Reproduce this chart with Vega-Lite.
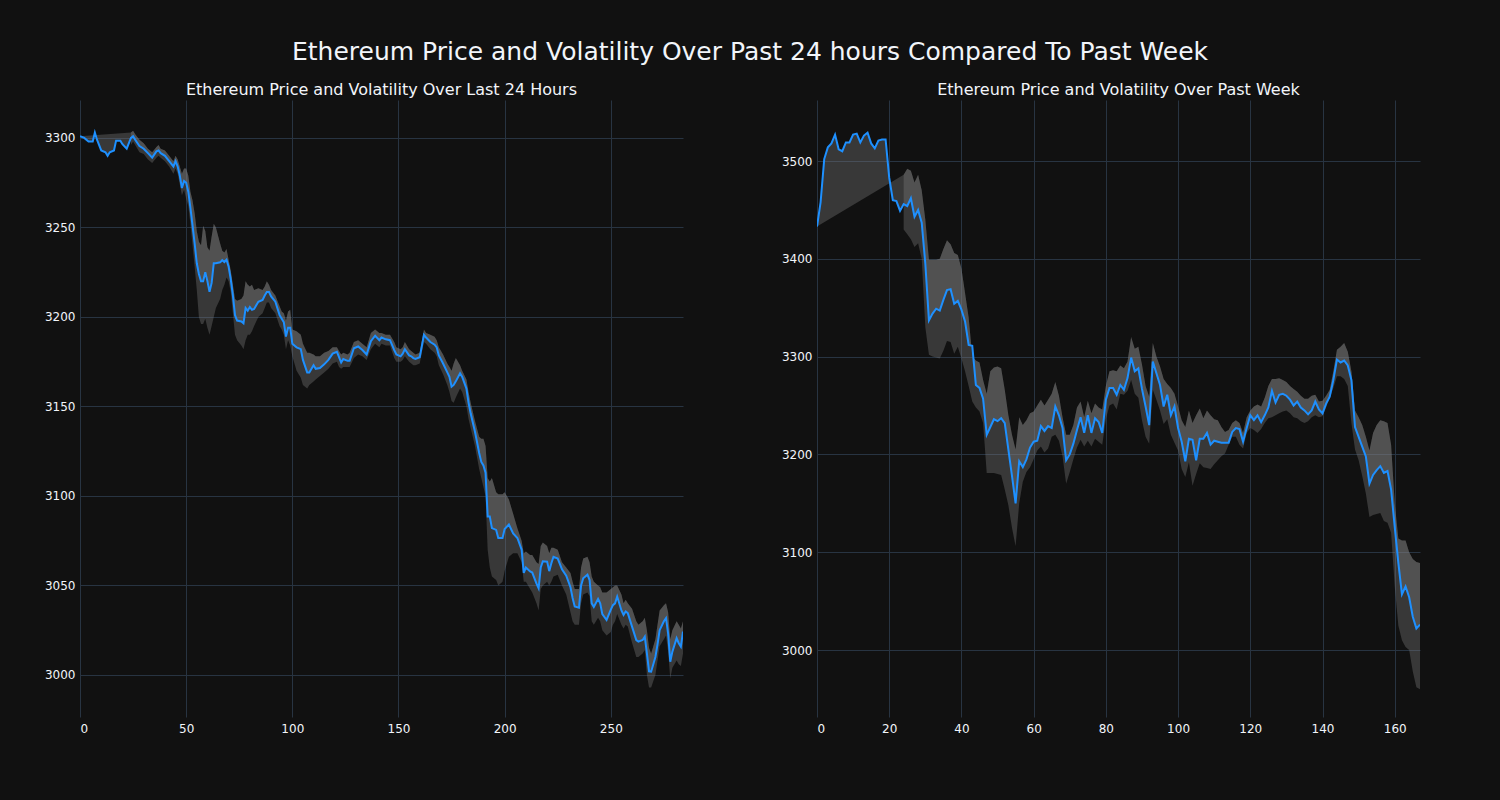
{
  "$schema": "https://vega.github.io/schema/vega-lite/v6.json",
  "background": "#111111",
  "padding": {"left": 0, "top": 40, "right": 80, "bottom": 66},
  "autosize": {"type": "pad"},
  "title": {"text": "Ethereum Price and Volatility Over Past 24 hours Compared To Past Week", "anchor": "middle", "fontSize": 25, "font": "DejaVu Sans", "fontWeight": "normal", "color": "#f2f5fa", "dx": 40, "offset": 17},
  "config": {
    "view": {"stroke": null, "fill": "#111111"},
    "axis": {"domain": false, "ticks": false, "gridColor": "#283442", "gridWidth": 1, "labelColor": "#f2f5fa", "labelFont": "DejaVu Sans", "labelFontSize": 12},
    "title": {"font": "DejaVu Sans", "fontWeight": "normal", "color": "#f2f5fa"}
  },
  "spacing": 94,
  "datasets": {
    "day": [
      {"x":0,"price":3301,"hi":null,"lo":null},{"x":2,"price":3300,"hi":null,"lo":null},{"x":4,"price":3298,"hi":null,"lo":null},{"x":6,"price":3298,"hi":null,"lo":null},{"x":7,"price":3303,"hi":null,"lo":null},{"x":8,"price":3299,"hi":null,"lo":null},{"x":10,"price":3293,"hi":null,"lo":null},{"x":12,"price":3292,"hi":null,"lo":null},{"x":13,"price":3290,"hi":null,"lo":null},{"x":14,"price":3292,"hi":null,"lo":null},{"x":16,"price":3293,"hi":null,"lo":null},{"x":17,"price":3298.5,"hi":null,"lo":null},{"x":19,"price":3298.5,"hi":null,"lo":null},{"x":20,"price":3296.5,"hi":null,"lo":null},{"x":22,"price":3294,"hi":null,"lo":null},
      {"x":24,"price":3300,"hi":3303,"lo":3296},{"x":25,"price":3301,"hi":3304,"lo":3298},{"x":26,"price":3299,"hi":3302,"lo":3296},{"x":28,"price":3295.5,"hi":3299,"lo":3292},{"x":30,"price":3294,"hi":3297,"lo":3291},{"x":32,"price":3291.5,"hi":3294,"lo":3288},{"x":34,"price":3289,"hi":3292,"lo":3286},{"x":36,"price":3292.5,"hi":3295,"lo":3289},{"x":37,"price":3293,"hi":3296,"lo":3290},{"x":38,"price":3291.5,"hi":3294,"lo":3289},{"x":40,"price":3290,"hi":3293,"lo":3287},{"x":42,"price":3287,"hi":3290,"lo":3284},{"x":44,"price":3284,"hi":3287,"lo":3280},{"x":45,"price":3287,"hi":3290,"lo":3283},{"x":46,"price":3284,"hi":3288,"lo":3280},{"x":47,"price":3279,"hi":3284,"lo":3274},{"x":48,"price":3272,"hi":3280,"lo":3268},{"x":49,"price":3276,"hi":3283,"lo":3271},{"x":50,"price":3275,"hi":3283,"lo":3266},
      {"x":51,"price":3270,"hi":3279,"lo":3262},{"x":52,"price":3261,"hi":3270,"lo":3252},{"x":53,"price":3251,"hi":3265,"lo":3240},{"x":54,"price":3241,"hi":3258,"lo":3228},{"x":55,"price":3230,"hi":3248,"lo":3215},{"x":56,"price":3224,"hi":3242,"lo":3200},{"x":57,"price":3220,"hi":3240,"lo":3196},{"x":58,"price":3220,"hi":3251,"lo":3196},{"x":59,"price":3225,"hi":3248,"lo":3199},{"x":60,"price":3220,"hi":3239,"lo":3194},{"x":61,"price":3214,"hi":3237,"lo":3190},{"x":62,"price":3219,"hi":3245,"lo":3195},{"x":63,"price":3230,"hi":3252,"lo":3200},{"x":64,"price":3230,"hi":3250,"lo":3205},{"x":66,"price":3230.5,"hi":3241,"lo":3210},{"x":67,"price":3231.7,"hi":3237,"lo":3215},{"x":68,"price":3230.7,"hi":3236,"lo":3218},{"x":69,"price":3232,"hi":3238,"lo":3222},{"x":70,"price":3228,"hi":3232,"lo":3220},
      {"x":71,"price":3221,"hi":3226,"lo":3214},{"x":72,"price":3212,"hi":3218,"lo":3202},{"x":73,"price":3201,"hi":3210,"lo":3190},{"x":74,"price":3198,"hi":3209,"lo":3187},{"x":76,"price":3197.5,"hi":3210,"lo":3184},{"x":77,"price":3196.5,"hi":3212,"lo":3182},{"x":78,"price":3205,"hi":3220,"lo":3187},{"x":79,"price":3203.5,"hi":3218,"lo":3190},{"x":80,"price":3205.5,"hi":3217,"lo":3190},{"x":81,"price":3204,"hi":3218,"lo":3192},{"x":82,"price":3204.5,"hi":3215,"lo":3195},{"x":84,"price":3208.5,"hi":3216,"lo":3200},{"x":86,"price":3209.5,"hi":3215,"lo":3202},{"x":87,"price":3212,"hi":3217,"lo":3205},{"x":88,"price":3214,"hi":3220,"lo":3208},{"x":89,"price":3214,"hi":3218,"lo":3208},{"x":90,"price":3211.5,"hi":3215,"lo":3205},{"x":92,"price":3208.5,"hi":3212,"lo":3202},{"x":94,"price":3201,"hi":3206,"lo":3195},{"x":95,"price":3199,"hi":3203,"lo":3193},{"x":96,"price":3197,"hi":3202,"lo":3190},{"x":97,"price":3189,"hi":3198,"lo":3182},{"x":98,"price":3194,"hi":3203,"lo":3187},{"x":99,"price":3194,"hi":3204,"lo":3184},{"x":100,"price":3185,"hi":3193,"lo":3178},
      {"x":102,"price":3183,"hi":3192,"lo":3170},{"x":104,"price":3182,"hi":3190,"lo":3166},{"x":105,"price":3176,"hi":3185,"lo":3162},{"x":107,"price":3169,"hi":3180,"lo":3160},{"x":108,"price":3169,"hi":3180,"lo":3162},{"x":110,"price":3173,"hi":3179,"lo":3164},{"x":111,"price":3171,"hi":3178,"lo":3165},{"x":113,"price":3171.5,"hi":3178,"lo":3167},{"x":115,"price":3173.5,"hi":3180,"lo":3169},{"x":117,"price":3176,"hi":3181,"lo":3171},{"x":119,"price":3179.5,"hi":3183,"lo":3174},{"x":121,"price":3180.5,"hi":3183,"lo":3175},{"x":122,"price":3177.5,"hi":3181,"lo":3172},{"x":123,"price":3174.5,"hi":3179,"lo":3171},{"x":124,"price":3176.5,"hi":3180,"lo":3172},{"x":126,"price":3175.5,"hi":3179,"lo":3172},{"x":127,"price":3175.5,"hi":3180,"lo":3172},{"x":129,"price":3182.5,"hi":3186,"lo":3177},{"x":131,"price":3183.5,"hi":3187,"lo":3179},{"x":133,"price":3181.5,"hi":3185,"lo":3178},{"x":135,"price":3179,"hi":3183,"lo":3176},{"x":137,"price":3186.5,"hi":3191,"lo":3182},{"x":139,"price":3189.5,"hi":3193,"lo":3185},{"x":141,"price":3187,"hi":3191,"lo":3183},{"x":142,"price":3188.5,"hi":3191,"lo":3185},{"x":144,"price":3187.5,"hi":3190,"lo":3184},{"x":146,"price":3187,"hi":3190,"lo":3184},{"x":148,"price":3181.5,"hi":3186,"lo":3177},{"x":149,"price":3179,"hi":3183,"lo":3175},
      {"x":151,"price":3178,"hi":3182,"lo":3175},{"x":152,"price":3179.5,"hi":3183,"lo":3176},{"x":153,"price":3182,"hi":3186,"lo":3178},{"x":155,"price":3178.5,"hi":3182,"lo":3175},{"x":156,"price":3178,"hi":3181,"lo":3174},{"x":157,"price":3177,"hi":3180,"lo":3173},{"x":158,"price":3176.5,"hi":3179,"lo":3173},{"x":160,"price":3177.5,"hi":3180,"lo":3174},{"x":162,"price":3190,"hi":3193,"lo":3186},{"x":163,"price":3188.5,"hi":3191,"lo":3185},{"x":165,"price":3186,"hi":3190,"lo":3182},{"x":167,"price":3184.5,"hi":3189,"lo":3180},{"x":168,"price":3183,"hi":3187,"lo":3178},{"x":169,"price":3178.5,"hi":3183,"lo":3173},{"x":171,"price":3174,"hi":3179,"lo":3168},{"x":173,"price":3169,"hi":3174,"lo":3162},{"x":174,"price":3166.5,"hi":3172,"lo":3158},{"x":175,"price":3161,"hi":3170,"lo":3153},{"x":176,"price":3162,"hi":3174,"lo":3152},{"x":177,"price":3164,"hi":3177,"lo":3155},{"x":179,"price":3168.5,"hi":3173,"lo":3160},{"x":180,"price":3166.5,"hi":3170,"lo":3158},{"x":182,"price":3160,"hi":3165,"lo":3150},{"x":183,"price":3152,"hi":3158,"lo":3143},{"x":184,"price":3146,"hi":3152,"lo":3138},{"x":186,"price":3136,"hi":3142,"lo":3128},{"x":188,"price":3124,"hi":3133,"lo":3115},{"x":189,"price":3119,"hi":3132,"lo":3110},{"x":190,"price":3117,"hi":3132,"lo":3105},{"x":191,"price":3113,"hi":3128,"lo":3100},
      {"x":192,"price":3088.5,"hi":3110,"lo":3070},{"x":193,"price":3088.5,"hi":3108,"lo":3060},{"x":194,"price":3082,"hi":3110,"lo":3055},{"x":196,"price":3081,"hi":3102,"lo":3053},{"x":197,"price":3076.5,"hi":3101,"lo":3050},{"x":199,"price":3076.5,"hi":3101,"lo":3052},{"x":200,"price":3081.5,"hi":3102,"lo":3058},{"x":202,"price":3084,"hi":3098,"lo":3066},{"x":204,"price":3079,"hi":3090,"lo":3068},{"x":206,"price":3076.5,"hi":3082,"lo":3068},{"x":208,"price":3070,"hi":3075,"lo":3063},{"x":209,"price":3057,"hi":3068,"lo":3052},{"x":210,"price":3060,"hi":3069,"lo":3052},{"x":212,"price":3057.8,"hi":3067,"lo":3048},{"x":213,"price":3057.2,"hi":3067,"lo":3046},{"x":215,"price":3051,"hi":3063,"lo":3040},{"x":216,"price":3048.4,"hi":3062,"lo":3036},{"x":217,"price":3060,"hi":3072,"lo":3048},{"x":218,"price":3063.5,"hi":3074,"lo":3050},{"x":220,"price":3063.3,"hi":3072,"lo":3052},{"x":221,"price":3058,"hi":3068,"lo":3050},{"x":222,"price":3062.4,"hi":3071,"lo":3052},{"x":223,"price":3066,"hi":3071,"lo":3055},{"x":225,"price":3065,"hi":3070,"lo":3056},{"x":227,"price":3059,"hi":3063,"lo":3050},{"x":229,"price":3055.5,"hi":3060,"lo":3045},{"x":231,"price":3049,"hi":3057,"lo":3035},{"x":232,"price":3043,"hi":3052,"lo":3030},{"x":233,"price":3038.2,"hi":3048,"lo":3028},{"x":235,"price":3037.5,"hi":3048,"lo":3028},{"x":236,"price":3050,"hi":3060,"lo":3040},{"x":237,"price":3054,"hi":3065,"lo":3045},{"x":239,"price":3056,"hi":3066,"lo":3046},{"x":240,"price":3053,"hi":3063,"lo":3044},
      {"x":241,"price":3040,"hi":3055,"lo":3030},{"x":242,"price":3038,"hi":3052,"lo":3028},{"x":244,"price":3042.5,"hi":3050,"lo":3032},{"x":245,"price":3040,"hi":3049,"lo":3030},{"x":246,"price":3034,"hi":3046,"lo":3025},{"x":248,"price":3030.7,"hi":3046,"lo":3022},{"x":250,"price":3036.5,"hi":3048,"lo":3024},{"x":251,"price":3039,"hi":3049,"lo":3028},{"x":252,"price":3040,"hi":3050,"lo":3030},{"x":253,"price":3043.8,"hi":3050,"lo":3034},{"x":255,"price":3036,"hi":3045,"lo":3028},{"x":256,"price":3033.5,"hi":3040,"lo":3026},{"x":257,"price":3035.4,"hi":3042,"lo":3028},{"x":258,"price":3034.5,"hi":3040,"lo":3027},{"x":260,"price":3027,"hi":3037,"lo":3018},{"x":262,"price":3019.5,"hi":3030,"lo":3010},{"x":263,"price":3018.6,"hi":3028,"lo":3010},{"x":265,"price":3019.5,"hi":3030,"lo":3012},{"x":266,"price":3021.4,"hi":3032,"lo":3014},{"x":267,"price":3012,"hi":3025,"lo":3000},{"x":268,"price":3002,"hi":3015,"lo":2993},{"x":269,"price":3001.8,"hi":3012,"lo":2993},{"x":271,"price":3010,"hi":3020,"lo":3000},{"x":272,"price":3017,"hi":3028,"lo":3008},{"x":273,"price":3025,"hi":3036,"lo":3016},{"x":275,"price":3030,"hi":3039,"lo":3020},{"x":276,"price":3031.7,"hi":3040,"lo":3022},{"x":277,"price":3023,"hi":3035,"lo":3013},{"x":278,"price":3007.4,"hi":3020,"lo":2998},{"x":279,"price":3013,"hi":3025,"lo":3004},{"x":281,"price":3020.5,"hi":3030,"lo":3008},{"x":282,"price":3017.7,"hi":3028,"lo":3006},{"x":283,"price":3015.8,"hi":3026,"lo":3005},{"x":284,"price":3024.2,"hi":3030,"lo":3012}
    ],
    "week": [
      {"x":0,"price":3433,"hi":null,"lo":null},{"x":1,"price":3458,"hi":null,"lo":null},{"x":2,"price":3502,"hi":null,"lo":null},{"x":3,"price":3514,"hi":null,"lo":null},{"x":4,"price":3518,"hi":null,"lo":null},{"x":5,"price":3527,"hi":null,"lo":null},{"x":6,"price":3512,"hi":null,"lo":null},{"x":7,"price":3510,"hi":null,"lo":null},{"x":8,"price":3519,"hi":null,"lo":null},{"x":9,"price":3519,"hi":null,"lo":null},{"x":10,"price":3527,"hi":null,"lo":null},{"x":11,"price":3528,"hi":null,"lo":null},{"x":12,"price":3519,"hi":null,"lo":null},{"x":13,"price":3526,"hi":null,"lo":null},{"x":14,"price":3529,"hi":null,"lo":null},{"x":15,"price":3518,"hi":null,"lo":null},{"x":16,"price":3513,"hi":null,"lo":null},{"x":17,"price":3521,"hi":null,"lo":null},{"x":18,"price":3522,"hi":null,"lo":null},{"x":19,"price":3522,"hi":null,"lo":null},{"x":20,"price":3483,"hi":null,"lo":null},{"x":21,"price":3460,"hi":null,"lo":null},{"x":22,"price":3459,"hi":null,"lo":null},{"x":23,"price":3449,"hi":null,"lo":null},
      {"x":24,"price":3456,"hi":3486,"lo":3430},{"x":25,"price":3454,"hi":3492,"lo":3425},{"x":26,"price":3462,"hi":3490,"lo":3420},{"x":27,"price":3443,"hi":3478,"lo":3412},{"x":28,"price":3450,"hi":3486,"lo":3416},{"x":29,"price":3437,"hi":3470,"lo":3400},{"x":30,"price":3395,"hi":3440,"lo":3330},{"x":31,"price":3337,"hi":3399,"lo":3302},{"x":32,"price":3344,"hi":3399,"lo":3300},{"x":33,"price":3349,"hi":3399,"lo":3299},{"x":34,"price":3347,"hi":3400,"lo":3298},{"x":35,"price":3358,"hi":3410,"lo":3306},{"x":36,"price":3368,"hi":3419,"lo":3316},{"x":37,"price":3369,"hi":3415,"lo":3315},{"x":38,"price":3354,"hi":3406,"lo":3303},{"x":39,"price":3357,"hi":3404,"lo":3310},{"x":40,"price":3348,"hi":3390,"lo":3298},
      {"x":41,"price":3336,"hi":3365,"lo":3285},{"x":42,"price":3312,"hi":3340,"lo":3270},{"x":43,"price":3311,"hi":3300,"lo":3254},{"x":44,"price":3271,"hi":3296,"lo":3248},{"x":45,"price":3268,"hi":3294,"lo":3244},{"x":46,"price":3257,"hi":3276,"lo":3232},{"x":47,"price":3220,"hi":3262,"lo":3181},{"x":48,"price":3228,"hi":3285,"lo":3181},{"x":49,"price":3236,"hi":3289,"lo":3181},{"x":50,"price":3234,"hi":3290,"lo":3180},{"x":51,"price":3237,"hi":3288,"lo":3179},{"x":52,"price":3232,"hi":3266,"lo":3164},{"x":53,"price":3205,"hi":3240,"lo":3148},{"x":54,"price":3178,"hi":3220,"lo":3125},{"x":55,"price":3150,"hi":3205,"lo":3106},{"x":56,"price":3193,"hi":3238,"lo":3150},{"x":57,"price":3187,"hi":3230,"lo":3172},{"x":58,"price":3195,"hi":3235,"lo":3182},{"x":59,"price":3207,"hi":3242,"lo":3187},{"x":60,"price":3213,"hi":3244,"lo":3195},
      {"x":61,"price":3214,"hi":3250,"lo":3204},{"x":62,"price":3229,"hi":3256,"lo":3208},{"x":63,"price":3224,"hi":3250,"lo":3202},{"x":64,"price":3229,"hi":3256,"lo":3206},{"x":65,"price":3227,"hi":3262,"lo":3218},{"x":66,"price":3249,"hi":3274,"lo":3220},{"x":67,"price":3240,"hi":3260,"lo":3214},{"x":68,"price":3227,"hi":3238,"lo":3198},{"x":69,"price":3194,"hi":3220,"lo":3170},{"x":70,"price":3200,"hi":3220,"lo":3182},{"x":71,"price":3211,"hi":3230,"lo":3195},{"x":72,"price":3225,"hi":3248,"lo":3207},{"x":73,"price":3238,"hi":3254,"lo":3215},{"x":74,"price":3222,"hi":3238,"lo":3208},{"x":75,"price":3240,"hi":3255,"lo":3214},{"x":76,"price":3222,"hi":3242,"lo":3208},{"x":77,"price":3237,"hi":3252,"lo":3216},{"x":78,"price":3233,"hi":3248,"lo":3213},{"x":79,"price":3222,"hi":3246,"lo":3210},{"x":80,"price":3256,"hi":3270,"lo":3236},
      {"x":81,"price":3268,"hi":3285,"lo":3250},{"x":82,"price":3268,"hi":3286,"lo":3252},{"x":83,"price":3261,"hi":3285,"lo":3246},{"x":84,"price":3271,"hi":3291,"lo":3262},{"x":85,"price":3266,"hi":3288,"lo":3261},{"x":86,"price":3278,"hi":3295,"lo":3265},{"x":87,"price":3299,"hi":3320,"lo":3276},{"x":88,"price":3285,"hi":3308,"lo":3262},{"x":89,"price":3288,"hi":3310,"lo":3258},{"x":90,"price":3267,"hi":3292,"lo":3235},{"x":91,"price":3249,"hi":3270,"lo":3218},{"x":92,"price":3230,"hi":3259,"lo":3211},{"x":93,"price":3295,"hi":3314,"lo":3266},{"x":94,"price":3283,"hi":3300,"lo":3256},{"x":95,"price":3271,"hi":3290,"lo":3245},{"x":96,"price":3249,"hi":3277,"lo":3231},{"x":97,"price":3261,"hi":3272,"lo":3236},{"x":98,"price":3240,"hi":3268,"lo":3220},{"x":99,"price":3249,"hi":3262,"lo":3212},{"x":100,"price":3227,"hi":3249,"lo":3204},
      {"x":101,"price":3213,"hi":3235,"lo":3185},{"x":102,"price":3193,"hi":3228,"lo":3177},{"x":103,"price":3216,"hi":3245,"lo":3192},{"x":104,"price":3215,"hi":3232,"lo":3168},{"x":105,"price":3194,"hi":3240,"lo":3180},{"x":106,"price":3216,"hi":3247,"lo":3191},{"x":107,"price":3216,"hi":3237,"lo":3187},{"x":108,"price":3222,"hi":3245,"lo":3186},{"x":109,"price":3210,"hi":3240,"lo":3185},{"x":110,"price":3214,"hi":3236,"lo":3190},{"x":111,"price":3213,"hi":3235,"lo":3194},{"x":112,"price":3212,"hi":3228,"lo":3198},{"x":113,"price":3212,"hi":3223,"lo":3201},{"x":114,"price":3212,"hi":3225,"lo":3210},{"x":115,"price":3223,"hi":3232,"lo":3218},{"x":116,"price":3227,"hi":3235,"lo":3218},{"x":117,"price":3226,"hi":3232,"lo":3210},{"x":118,"price":3213,"hi":3222,"lo":3206},{"x":119,"price":3227,"hi":3238,"lo":3222},{"x":120,"price":3240,"hi":3245,"lo":3227},
      {"x":121,"price":3235,"hi":3249,"lo":3225},{"x":122,"price":3240,"hi":3251,"lo":3222},{"x":123,"price":3233,"hi":3249,"lo":3226},{"x":124,"price":3240,"hi":3258,"lo":3232},{"x":125,"price":3248,"hi":3270,"lo":3237},{"x":126,"price":3265,"hi":3277,"lo":3238},{"x":127,"price":3253,"hi":3277,"lo":3240},{"x":128,"price":3261,"hi":3278,"lo":3242},{"x":129,"price":3262,"hi":3276,"lo":3244},{"x":130,"price":3260,"hi":3274,"lo":3245},{"x":131,"price":3256,"hi":3270,"lo":3242},{"x":132,"price":3250,"hi":3267,"lo":3238},{"x":133,"price":3254,"hi":3264,"lo":3237},{"x":134,"price":3248,"hi":3260,"lo":3234},{"x":135,"price":3245,"hi":3257,"lo":3232},{"x":136,"price":3241,"hi":3257,"lo":3234},{"x":137,"price":3245,"hi":3260,"lo":3238},{"x":138,"price":3254,"hi":3261,"lo":3240},{"x":139,"price":3246,"hi":3254,"lo":3238},{"x":140,"price":3242,"hi":3255,"lo":3239},
      {"x":141,"price":3252,"hi":3260,"lo":3248},{"x":142,"price":3259,"hi":3266,"lo":3258},{"x":143,"price":3276,"hi":3285,"lo":3268},{"x":144,"price":3297,"hi":3307,"lo":3280},{"x":145,"price":3294,"hi":3310,"lo":3280},{"x":146,"price":3296,"hi":3314,"lo":3277},{"x":147,"price":3291,"hi":3305,"lo":3270},{"x":148,"price":3276,"hi":3285,"lo":3232},{"x":149,"price":3228,"hi":3245,"lo":3205},{"x":150,"price":3218,"hi":3238,"lo":3194},{"x":151,"price":3208,"hi":3230,"lo":3178},{"x":152,"price":3198,"hi":3218,"lo":3160},{"x":153,"price":3170,"hi":3204,"lo":3136},{"x":154,"price":3179,"hi":3222,"lo":3138},{"x":155,"price":3184,"hi":3230,"lo":3139},{"x":156,"price":3188,"hi":3235,"lo":3140},{"x":157,"price":3181,"hi":3234,"lo":3132},{"x":158,"price":3183,"hi":3232,"lo":3130},{"x":159,"price":3164,"hi":3210,"lo":3120},{"x":160,"price":3126,"hi":3150,"lo":3065},
      {"x":161,"price":3089,"hi":3114,"lo":3025},{"x":162,"price":3057,"hi":3112,"lo":3010},{"x":163,"price":3065,"hi":3112,"lo":3003},{"x":164,"price":3054,"hi":3100,"lo":3000},{"x":165,"price":3034,"hi":3093,"lo":2978},{"x":166,"price":3022,"hi":3090,"lo":2962},{"x":167,"price":3026,"hi":3089,"lo":2960}
    ]
  },
  "hconcat": [
    {
      "width": 603,
      "height": 617,
      "title": {"text": "Ethereum Price and Volatility Over Last 24 Hours", "fontSize": 16, "offset": 2},
      "data": {"name": "day"},
      "encoding": {
        "x": {"field": "x", "type": "quantitative", "title": null, "scale": {"domain": [0, 284], "nice": false, "zero": false}, "axis": {"values": [0, 50, 100, 150, 200, 250], "labelPadding": 6}}
      },
      "layer": [
        {
          "transform": [{"filter": "isValid(datum.lo)"}],
          "mark": {"type": "area", "fill": "#808080", "opacity": 0.35, "clip": true},
          "encoding": {
            "y": {"field": "hi", "type": "quantitative", "title": null, "scale": {"domain": [2976.5, 3321.2], "nice": false, "zero": false}, "axis": {"values": [3000, 3050, 3100, 3150, 3200, 3250, 3300], "format": "d", "labelPadding": 5, "minExtent": 80, "maxExtent": 80}},
            "y2": {"field": "lo"}
          }
        },
        {
          "transform": [
            {"fold": ["price", "hi"], "as": ["k", "v"]},
            {"filter": "isValid(datum.v)"},
            {"calculate": "datum.k === 'price' ? datum.x : 1000 - datum.x", "as": "ord"}
          ],
          "mark": {"type": "line", "filled": true, "color": "#808080", "fill": "#808080", "fillOpacity": 0.35, "strokeWidth": 0, "clip": true},
          "encoding": {
            "y": {"field": "v", "type": "quantitative", "title": null},
            "order": {"field": "ord", "type": "quantitative"}
          }
        },
        {
          "mark": {"type": "line", "color": "#1e90ff", "strokeWidth": 2, "clip": true},
          "encoding": {
            "y": {"field": "price", "type": "quantitative", "title": null}
          }
        }
      ]
    },
    {
      "width": 603,
      "height": 617,
      "title": {"text": "Ethereum Price and Volatility Over Past Week", "fontSize": 16, "offset": 2},
      "data": {"name": "week"},
      "encoding": {
        "x": {"field": "x", "type": "quantitative", "title": null, "scale": {"domain": [0, 167], "nice": false, "zero": false}, "axis": {"values": [0, 20, 40, 60, 80, 100, 120, 140, 160], "labelPadding": 6}}
      },
      "layer": [
        {
          "transform": [{"filter": "isValid(datum.lo)"}],
          "mark": {"type": "area", "fill": "#808080", "opacity": 0.35, "clip": true},
          "encoding": {
            "y": {"field": "hi", "type": "quantitative", "title": null, "scale": {"domain": [2931.5, 3562.4], "nice": false, "zero": false}, "axis": {"values": [3000, 3100, 3200, 3300, 3400, 3500], "format": "d", "labelPadding": 5, "minExtent": 40, "maxExtent": 40}},
            "y2": {"field": "lo"}
          }
        },
        {
          "transform": [
            {"fold": ["price", "hi"], "as": ["k", "v"]},
            {"filter": "isValid(datum.v)"},
            {"calculate": "datum.k === 'price' ? datum.x : 1000 - datum.x", "as": "ord"}
          ],
          "mark": {"type": "line", "filled": true, "color": "#808080", "fill": "#808080", "fillOpacity": 0.35, "strokeWidth": 0, "clip": true},
          "encoding": {
            "y": {"field": "v", "type": "quantitative", "title": null},
            "order": {"field": "ord", "type": "quantitative"}
          }
        },
        {
          "mark": {"type": "line", "color": "#1e90ff", "strokeWidth": 2, "clip": true},
          "encoding": {
            "y": {"field": "price", "type": "quantitative", "title": null}
          }
        }
      ]
    }
  ]
}
